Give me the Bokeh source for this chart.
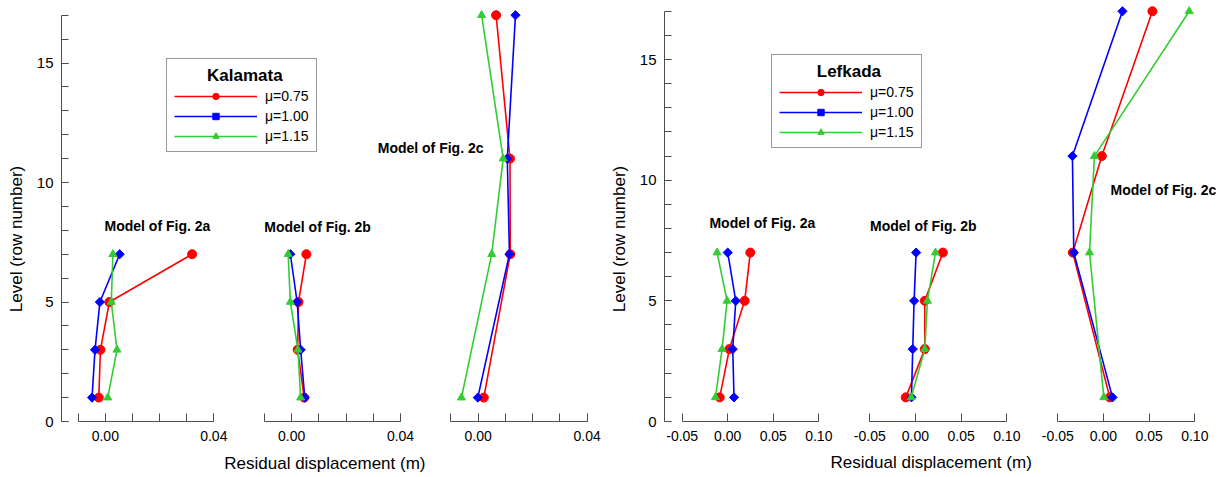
from bokeh.plotting import figure
from bokeh.models import (Range1d, LinearAxis, FixedTicker, PrintfTickFormatter,
                          Label, Legend, LegendItem)
from bokeh.layouts import row
from bokeh.embed import file_html
from bokeh.resources import INLINE

# ---------------- data ----------------
levels_ab = [1, 3, 5, 7]
levels_c = [1, 7, 11, 17]
mu_labels = ["μ=0.75", "μ=1.00", "μ=1.15"]

# Kalamata
kal_a_075 = [-0.0024, -0.0018, 0.0015, 0.0320]
kal_a_100 = [-0.0049, -0.0038, -0.0020, 0.0053]
kal_a_115 = [0.0009, 0.0043, 0.0022, 0.0028]
kal_b_075 = [0.0046, 0.0022, 0.0025, 0.0054]
kal_b_100 = [0.0048, 0.0033, 0.0020, -0.0005]
kal_b_115 = [0.0033, 0.0023, -0.0005, -0.0013]
kal_c_075 = [0.0021, 0.0118, 0.0117, 0.0066]
kal_c_100 = [-0.0001, 0.0115, 0.0107, 0.0137]
kal_c_115 = [-0.0061, 0.0050, 0.0092, 0.0013]

# Lefkada
lef_a_075 = [-0.0088, 0.0018, 0.0186, 0.0248]
lef_a_100 = [0.0069, 0.0055, 0.0088, 0.0000]
lef_a_115 = [-0.0135, -0.0062, -0.0007, -0.0117]
lef_b_075 = [-0.0106, 0.0102, 0.0102, 0.0300]
lef_b_100 = [-0.0044, -0.0030, -0.0015, 0.0007]
lef_b_115 = [-0.0047, 0.0102, 0.0131, 0.0219]
lef_c_075 = [0.0069, -0.0336, -0.0018, 0.0536]
lef_c_100 = [0.0099, -0.0325, -0.0340, 0.0208]
lef_c_115 = [0.0004, -0.0153, -0.0099, 0.0939]

kal_ticks = [0.0, 0.04]
kal_minor = [-0.01, 0.0, 0.01, 0.02, 0.03, 0.04]
lef_ticks = [-0.05, 0.0, 0.05, 0.10]
y_ticks = [0, 5, 10, 15]
y_minor = list(range(0, 18))

# ---------------- style ----------------
FONT = "Liberation Sans"
AX = "#4d4d4d"
COLORS = ["#ff0000", "#0000ff", "#33cc33"]
MARKERS = ["circle", "square", "triangle"]
MSIZE = [9, 6.5, 8]
MANGLE = [0, 0.7854, 0]
NBSP = "\u00a0"


def make_panel(width, frame_left, px_per_unit, subs, legend_title, title_pad,
               legend_loc, xlabel_pos, model_labels):
    y0_px = 421.0
    p = figure(width=width, height=477, output_backend="svg", toolbar_location=None,
               tools="", x_range=Range1d(0, 1),
               y_range=Range1d(-(477 - y0_px) / px_per_unit, y0_px / px_per_unit),
               x_axis_location=None, y_axis_location="left",
               min_border_left=frame_left, min_border_right=0,
               min_border_top=0, min_border_bottom=0)
    p.outline_line_color = None
    p.grid.visible = False
    p.background_fill_color = "white"
    p.border_fill_color = "white"

    ya = p.yaxis[0]
    ya.ticker = FixedTicker(ticks=y_ticks, minor_ticks=y_minor)
    ya.bounds = (0, 17)
    ya.major_tick_in = 7
    ya.major_tick_out = 0
    ya.minor_tick_in = 7
    ya.minor_tick_out = 0
    ya.axis_line_color = AX
    ya.major_tick_line_color = AX
    ya.minor_tick_line_color = AX
    ya.major_label_text_font = FONT
    ya.major_label_text_font_size = "15px"
    ya.major_label_text_color = "black"
    ya.major_label_standoff = 8
    ya.axis_label = "Level (row number)"
    ya.axis_label_text_font = FONT
    ya.axis_label_text_font_size = "17px"
    ya.axis_label_text_font_style = "normal"
    ya.axis_label_text_color = "black"
    ya.axis_label_standoff = 8

    frame_right = width
    legend_items = None
    for i, sub in enumerate(subs):
        a, b, p1, p2, ticks, minor, series, levels = sub
        s = (b - a) / (p2 - p1)
        name = "x%d" % i
        p.extra_x_ranges[name] = Range1d(a - (p1 - frame_left) * s,
                                         b + (frame_right - p2) * s)
        ax = LinearAxis(x_range_name=name, fixed_location=0, bounds=(a, b),
                        ticker=FixedTicker(ticks=ticks, minor_ticks=minor),
                        formatter=PrintfTickFormatter(format="%.2f"),
                        major_tick_in=8, major_tick_out=0,
                        minor_tick_in=8, minor_tick_out=0,
                        axis_line_color=AX, major_tick_line_color=AX,
                        minor_tick_line_color=AX,
                        major_label_text_font=FONT,
                        major_label_text_font_size="14px",
                        major_label_text_color="black",
                        major_label_standoff=9)
        p.add_layout(ax, "below")
        rends = []
        for k, xs in enumerate(series):
            ln = p.line(xs, levels, x_range_name=name, line_color=COLORS[k],
                        line_width=1.6)
            sc = p.scatter(xs, levels, x_range_name=name, marker=MARKERS[k],
                           size=MSIZE[k], angle=MANGLE[k], fill_color=COLORS[k],
                           line_color=COLORS[k])
            rends.append([ln, sc])
        if legend_items is None:
            legend_items = [LegendItem(label=mu_labels[k], renderers=rends[k])
                            for k in range(3)]
        lx, ly, ltxt = model_labels[i]
        p.add_layout(Label(x=lx, y=ly, x_range_name=name, text=ltxt,
                           text_font=FONT, text_font_size="14px",
                           text_font_style="bold", text_align="center",
                           text_baseline="middle", text_color="black"))

    xl_x, xl_y = xlabel_pos
    p.add_layout(Label(x=xl_x, y=xl_y, x_range_name="x1",
                       text="Residual displacement (m)", text_font=FONT,
                       text_font_size="17px", text_align="center",
                       text_baseline="middle", text_color="black"))

    leg = Legend(items=legend_items, location=legend_loc,
                 title=NBSP * title_pad + legend_title,
                 title_text_font=FONT, title_text_font_size="17px",
                 title_text_font_style="bold", title_text_color="black",
                 title_standoff=2,
                 label_text_font=FONT, label_text_font_size="14px",
                 label_text_color="black",
                 glyph_width=83, glyph_height=16, label_height=16,
                 label_standoff=8, padding=7, spacing=4, margin=0,
                 border_line_color="#333333", border_line_width=1.5,
                 background_fill_color="white", background_fill_alpha=1)
    p.add_layout(leg)
    return p


W1 = 605
W2 = 1227 - W1

kal_subs = [
    (-0.01, 0.04, 77.7, 213.3, kal_ticks, kal_minor,
     [kal_a_075, kal_a_100, kal_a_115], levels_ab),
    (-0.01, 0.04, 264.0, 400.0, kal_ticks, kal_minor,
     [kal_b_075, kal_b_100, kal_b_115], levels_ab),
    (-0.01, 0.04, 450.3, 586.7, kal_ticks, kal_minor,
     [kal_c_075, kal_c_100, kal_c_115], levels_c),
]
kal_labels = [(0.0192, 8.2, "Model of Fig. 2a"),
              (0.0095, 8.12, "Model of Fig. 2b"),
              (-0.0174, 11.46, "Model of Fig. 2c")]
p1 = make_panel(W1, 61, 23.9, kal_subs, "Kalamata", 7, (105, 325),
                (0.0122, -1.75), kal_labels)

lef_subs = [
    (-0.05, 0.10, 681.7 - W1, 818.3 - W1, lef_ticks, [],
     [lef_a_075, lef_a_100, lef_a_115], levels_ab),
    (-0.05, 0.10, 869.3 - W1, 1006.3 - W1, lef_ticks, [],
     [lef_b_075, lef_b_100, lef_b_115], levels_ab),
    (-0.05, 0.10, 1057.3 - W1, 1194.3 - W1, lef_ticks, [],
     [lef_c_075, lef_c_100, lef_c_115], levels_c),
]
lef_labels = [(0.038, 8.22, "Model of Fig. 2a"),
              (0.0086, 8.11, "Model of Fig. 2b"),
              (0.0657, 9.61, "Model of Fig. 2c")]
p2 = make_panel(W2, 59, 24.13, lef_subs, "Lefkada", 8, (107, 329),
                (0.0172, -1.70), lef_labels)

layout = row(p1, p2, spacing=0)
open("out.html", "w").write(file_html(layout, INLINE))
